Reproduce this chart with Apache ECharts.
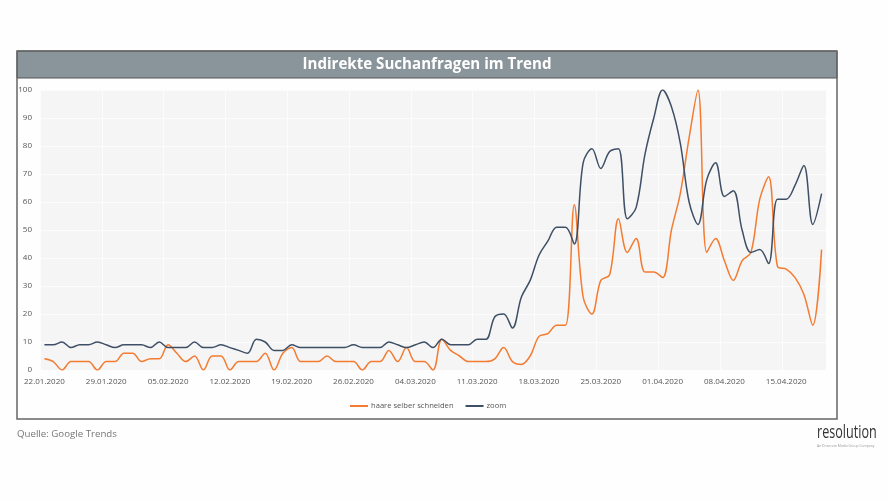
<!DOCTYPE html>
<html>
<head>
<meta charset="utf-8">
<title>Indirekte Suchanfragen im Trend</title>
<script src="https://cdn.jsdelivr.net/npm/echarts@6/dist/echarts.min.js"></script>
<style>
    html, body { margin: 0; padding: 0; background: #fefefe; }
    #chart { width: 888px; height: 500px; }
</style>
</head>
<body>
<div id="chart"></div>
<script>
// Startdatum + Tageswerte, 89 Tage
let startDate = [2020, 0, 22];
let haare = [4, 3, 0, 3, 3, 3, 0, 3, 3, 6, 6, 3, 4, 4, 9, 6, 3, 5, 0, 5, 5, 0, 3, 3, 3, 6, 0, 6, 8, 3,
    3, 3, 5, 3, 3, 3, 0, 3, 3, 7, 3, 8, 3, 3, 0, 11, 7, 5, 3, 3, 3, 4, 8, 3, 2, 5, 12, 13, 16, 16,
    59, 26, 20, 32, 34, 54, 42, 47, 35, 35, 33, 50, 63, 83, 100, 42, 47, 39, 32, 39, 42, 61, 69, 37, 36, 33, 27, 16, 43];
let zoom = [9, 9, 10, 8, 9, 9, 10, 9, 8, 9, 9, 9, 8, 10, 8, 8, 8, 10, 8, 8, 9, 8, 7, 6, 11, 10, 7, 7, 9, 8,
    8, 8, 8, 8, 8, 9, 8, 8, 8, 10, 9, 8, 9, 10, 8, 11, 9, 9, 9, 11, 11, 19, 20, 15, 26, 32, 41, 46, 51, 51,
    45, 74, 79, 72, 78, 79, 54, 58, 77, 90, 100, 94, 81, 60, 52, 68, 74, 62, 64, 50, 42, 43, 38, 61, 61, 66, 73, 52, 63];

let categories = [];
for (let i = 0; i < haare.length; i++) {
    let d = new Date(startDate[0], startDate[1], startDate[2] + i);
    let dd = String(d.getDate()).padStart(2, '0');
    let mm = String(d.getMonth() + 1).padStart(2, '0');
    categories.push(dd + '.' + mm + '.' + d.getFullYear());
}

let textFont = '"Open Sans", sans-serif';
let chart = echarts.init(document.getElementById('chart'));

chart.setOption({
    backgroundColor: '#fefefe',
    animation: false,
    title: {
        text: 'Indirekte Suchanfragen im Trend',
        left: 422,
        top: 50,
        textAlign: 'center',
        textStyle: { color: '#fff', fontFamily: textFont, fontSize: 15.1, fontWeight: 'bold', lineHeight: 20 }
    },
    legend: {
        data: ['haare selber schneiden', 'zoom'],
        left: 345,
        top: 397,
        icon: 'rect',
        itemWidth: 18,
        itemHeight: 2,
        itemGap: 12,
        textStyle: { color: '#555', fontFamily: textFont, fontSize: 7.6, padding: [0, 0, 0, -2] }
    },
    grid: {
        left: 40,
        right: 62,
        top: 90,
        bottom: 130,
        show: true,
        backgroundColor: '#f5f5f5',
        borderWidth: 0
    },
    xAxis: {
        type: 'category',
        data: categories,
        boundaryGap: true,
        axisLine: { show: false },
        axisTick: { show: false },
        axisLabel: { interval: 6, color: '#555', fontFamily: textFont, fontSize: 8, margin: 8, hideOverlap: false },
        splitLine: { show: true, interval: 6, lineStyle: { color: '#fff', width: 1, opacity: 0.7 } }
    },
    yAxis: {
        type: 'value',
        min: 0,
        max: 100,
        interval: 10,
        axisLine: { show: false },
        axisTick: { show: false },
        axisLabel: { color: '#555', fontFamily: textFont, fontSize: 8, margin: 8 },
        splitLine: { show: true, lineStyle: { color: '#fff', width: 1, opacity: 0.7 } }
    },
    series: [{
        name: 'haare selber schneiden',
        type: 'line',
        data: haare,
        smooth: 0.35,
        smoothConstraint: false,
        showSymbol: false,
        lineStyle: { color: '#f47b30', width: 1.5 },
        itemStyle: { color: '#f47b30' }
    }, {
        name: 'zoom',
        type: 'line',
        data: zoom,
        smooth: 0.35,
        smoothConstraint: false,
        showSymbol: false,
        lineStyle: { color: '#3e4f66', width: 1.5 },
        itemStyle: { color: '#3e4f66' }
    }],
    graphic: [
        // Titelband + Rahmen
        { type: 'rect', z: -1, shape: { x: 17, y: 51, width: 820, height: 27 }, style: { fill: '#8a959b', stroke: '#555', lineWidth: 1 } },
        { type: 'rect', z: 100, shape: { x: 17, y: 51, width: 820, height: 368 }, style: { fill: 'none', stroke: '#666', lineWidth: 1.5 } },
        { type: 'text', x: 17, y: 429, style: { text: 'Quelle: Google Trends', fill: '#777', font: '9.7px "Open Sans", sans-serif' } },
        // Logo
        { type: 'text', x: 817, y: 424, scaleX: 0.7, style: { text: 'resolution', fill: '#333', font: '18px "Open Sans", sans-serif' } },
        { type: 'text', x: 817, y: 445, style: { text: 'An Dnsecom Media Group Company', fill: '#999', font: '3.4px "Open Sans", sans-serif' } }
    ]
});
</script>
</body>
</html>
